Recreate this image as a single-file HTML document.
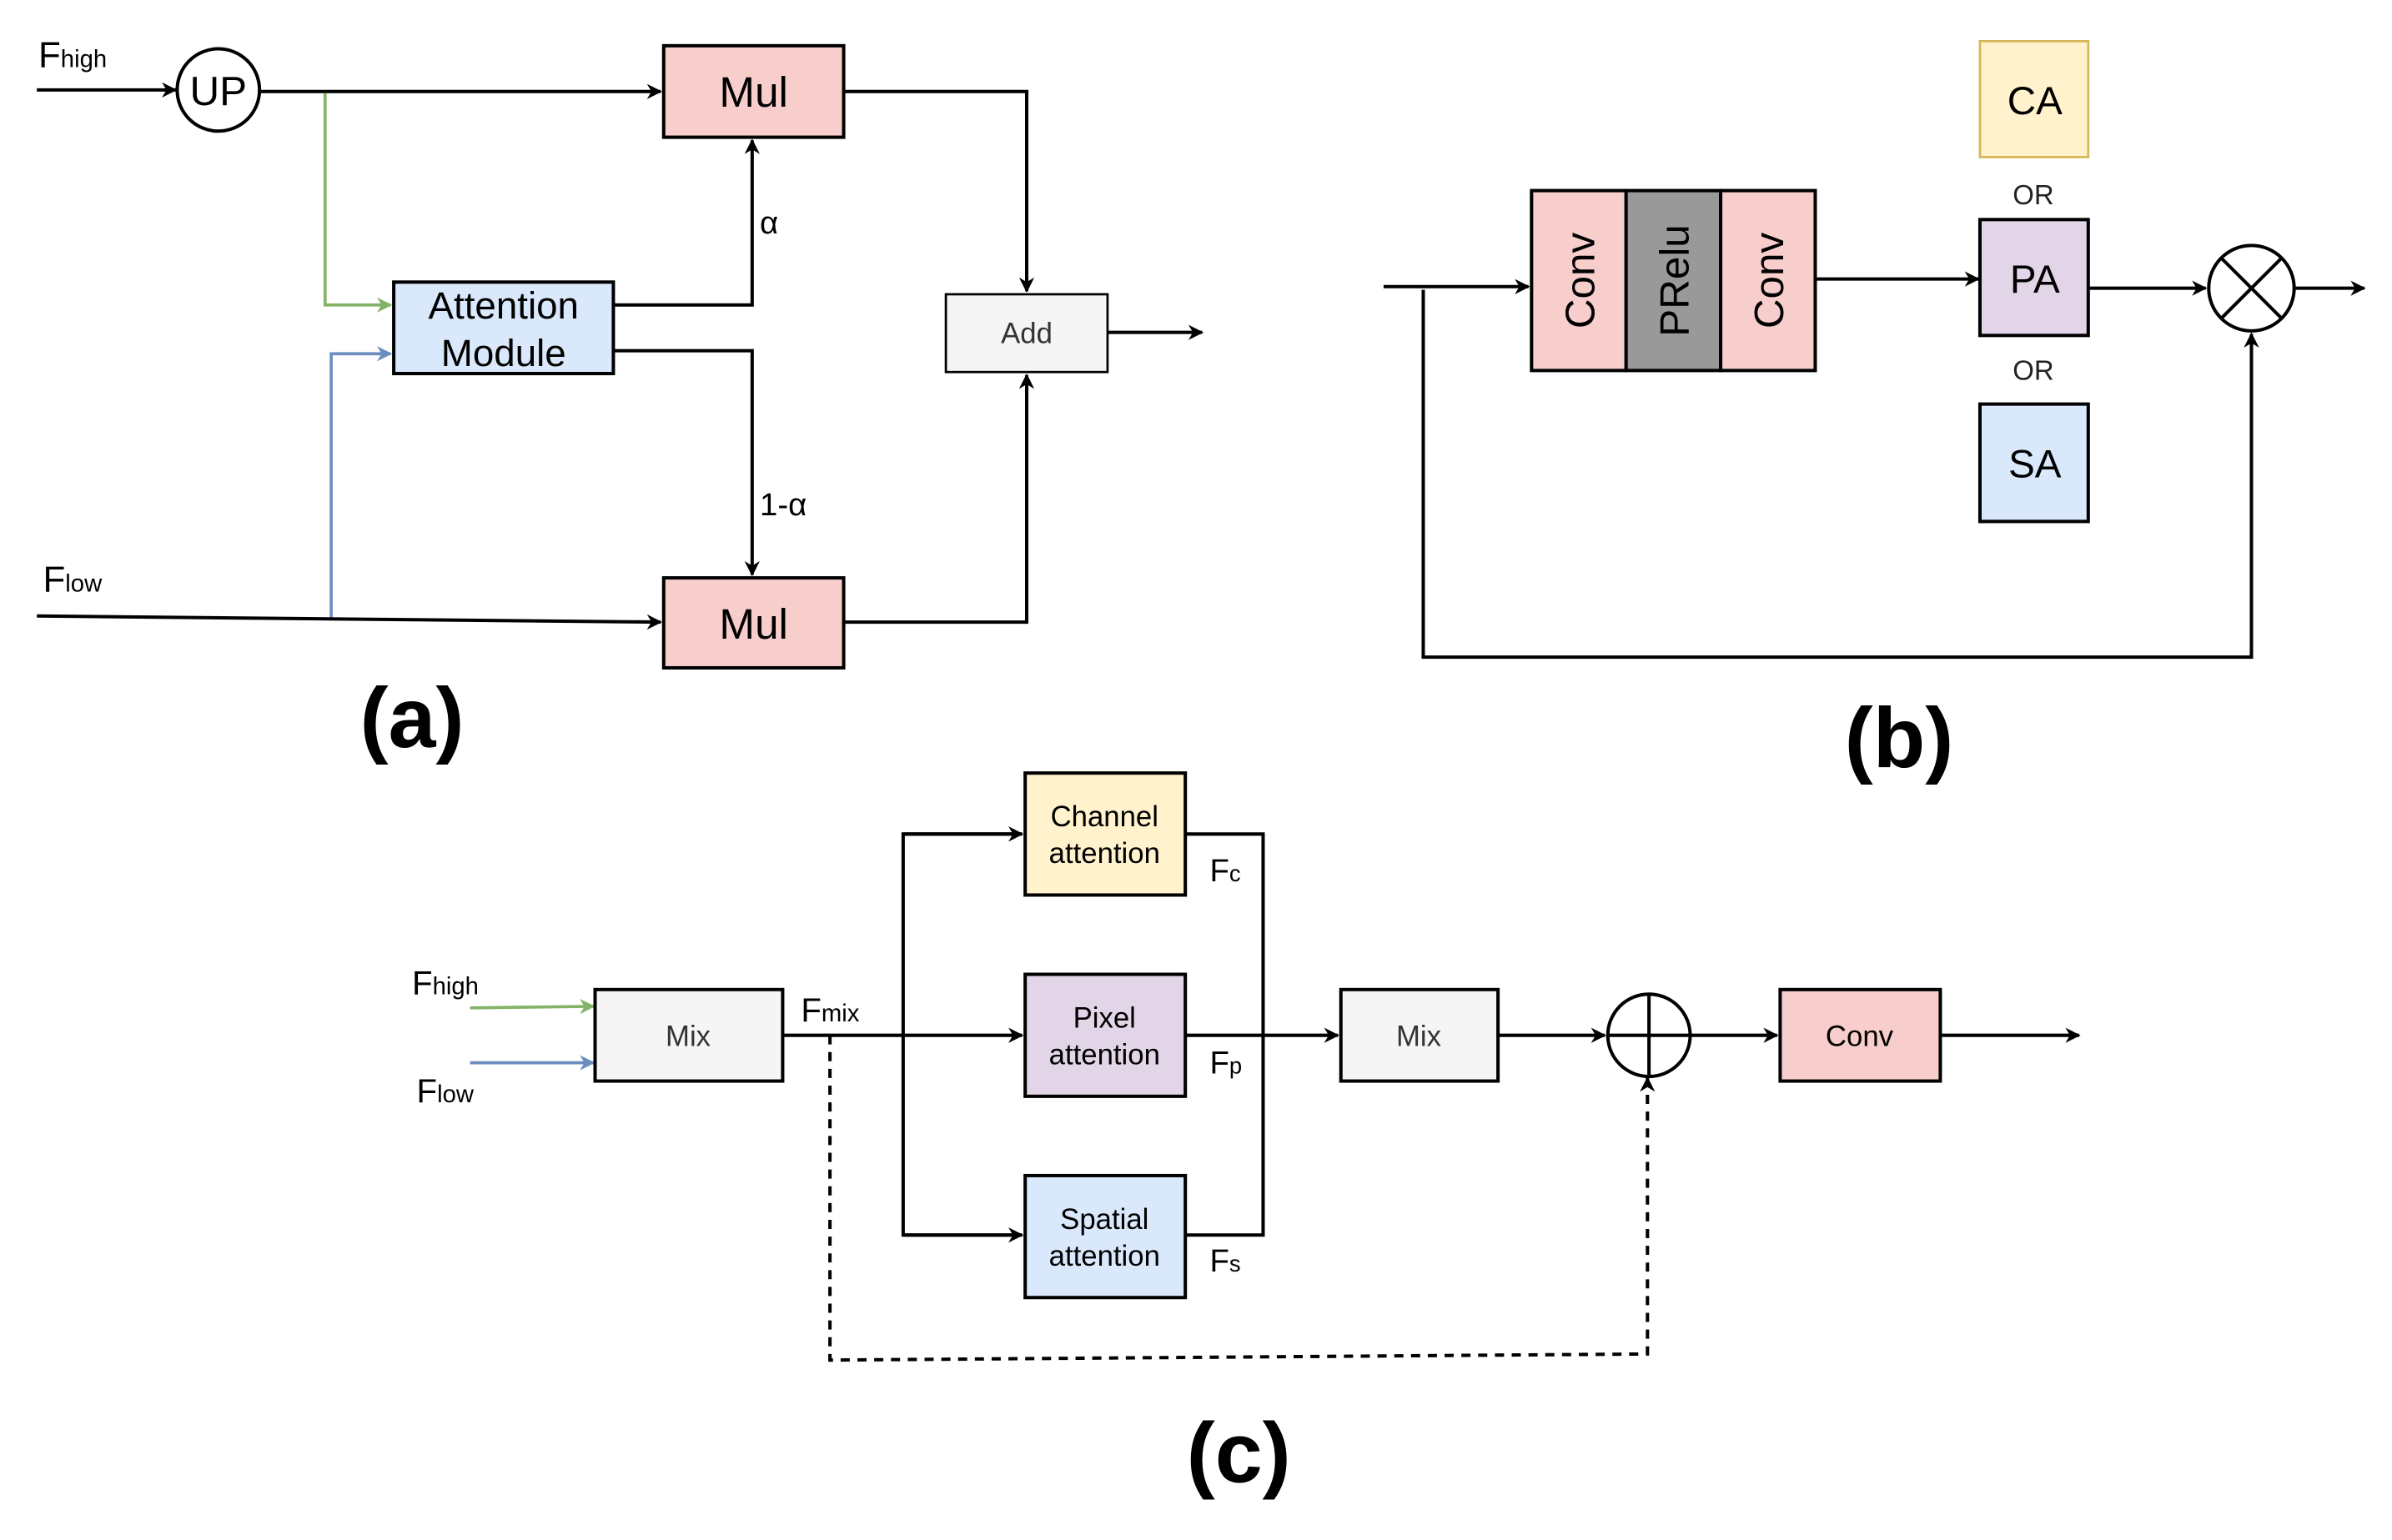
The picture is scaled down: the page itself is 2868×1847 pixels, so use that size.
<!DOCTYPE html>
<html><head><meta charset="utf-8"><style>html,body{margin:0;padding:0;background:#fff}svg{display:block}</style></head>
<body>
<svg width="2868" height="1847" viewBox="0 0 1568 1010" xmlns="http://www.w3.org/2000/svg" font-family="Liberation Sans, DejaVu Sans, sans-serif">
<defs>
<marker id="a" markerWidth="10" markerHeight="10" refX="9" refY="5" orient="auto" markerUnits="userSpaceOnUse"><path d="M0,0 L10,5 L0,10 L3,5 Z" fill="#000"/></marker>
<marker id="g" markerWidth="10" markerHeight="10" refX="9" refY="5" orient="auto" markerUnits="userSpaceOnUse"><path d="M0,0 L10,5 L0,10 L3,5 Z" fill="#82b366"/></marker>
<marker id="b" markerWidth="10" markerHeight="10" refX="9" refY="5" orient="auto" markerUnits="userSpaceOnUse"><path d="M0,0 L10,5 L0,10 L3,5 Z" fill="#6c8ebf"/></marker>
</defs>
<g fill="none" stroke="#000" stroke-width="2.2">
<line x1="24" y1="59" x2="115" y2="59" marker-end="url(#a)"/>
<circle cx="143" cy="59" r="27"/>
<line x1="170" y1="60" x2="433" y2="60" marker-end="url(#a)"/>
<polyline points="213,61 213,200 256,200" stroke="#82b366" stroke-width="2" marker-end="url(#g)"/>
<polyline points="217,405 217,232 256,232" stroke="#6c8ebf" stroke-width="2" marker-end="url(#b)"/>
<polyline points="402,200 493,200 493,92" marker-end="url(#a)"/>
<polyline points="402,230 493,230 493,377" marker-end="url(#a)"/>
<line x1="24" y1="404" x2="433" y2="408" marker-end="url(#a)"/>
<polyline points="553,60 673,60 673,191" marker-end="url(#a)"/>
<polyline points="553,408 673,408 673,246" marker-end="url(#a)"/>
<line x1="726" y1="218" x2="788" y2="218" marker-end="url(#a)"/>
<rect x="435" y="30" width="118" height="60" fill="#f8cecc"/>
<rect x="435" y="379" width="118" height="59" fill="#f8cecc"/>
<rect x="258" y="185" width="144" height="60" fill="#dae8fc"/>
<rect x="620" y="193" width="106" height="51" fill="#f5f5f5" stroke-width="1.5"/>
<line x1="907" y1="188" x2="1002" y2="188" marker-end="url(#a)"/>
<rect x="1004" y="125" width="62" height="118" fill="#f8cecc"/>
<rect x="1066" y="125" width="62" height="118" fill="#999999"/>
<rect x="1128" y="125" width="62" height="118" fill="#f8cecc"/>
<line x1="1190" y1="183" x2="1297" y2="183" marker-end="url(#a)"/>
<rect x="1298" y="27" width="71" height="76" fill="#fff2cc" stroke="#d6b656" stroke-width="1.5"/>
<rect x="1298" y="144" width="71" height="76" fill="#e1d5e7"/>
<rect x="1298" y="265" width="71" height="77" fill="#dae8fc"/>
<line x1="1369" y1="189" x2="1446" y2="189" marker-end="url(#a)"/>
<circle cx="1476" cy="189" r="28"/>
<line x1="1456" y1="169" x2="1496" y2="209"/><line x1="1496" y1="169" x2="1456" y2="209"/>
<line x1="1504" y1="189" x2="1550" y2="189" marker-end="url(#a)"/>
<polyline points="933,190 933,431 1476,431 1476,219" marker-end="url(#a)"/>
<line x1="308" y1="661" x2="389" y2="660" stroke="#82b366" stroke-width="2" marker-end="url(#g)"/>
<line x1="308" y1="697" x2="389" y2="697" stroke="#6c8ebf" stroke-width="2" marker-end="url(#b)"/>
<rect x="390" y="649" width="123" height="60" fill="#f5f5f5"/>
<line x1="513" y1="679" x2="670" y2="679" marker-end="url(#a)"/>
<polyline points="670,547 592,547 592,810 670,810"/>
<line x1="592" y1="547" x2="670" y2="547" marker-end="url(#a)"/>
<line x1="592" y1="810" x2="670" y2="810" marker-end="url(#a)"/>
<rect x="672" y="507" width="105" height="80" fill="#fff2cc"/>
<rect x="672" y="639" width="105" height="80" fill="#e1d5e7"/>
<rect x="672" y="771" width="105" height="80" fill="#dae8fc"/>
<polyline points="777,547 828,547 828,810 777,810"/>
<line x1="777" y1="679" x2="877" y2="679" marker-end="url(#a)"/>
<rect x="879" y="649" width="103" height="60" fill="#f5f5f5"/>
<line x1="982" y1="679" x2="1052" y2="679" marker-end="url(#a)"/>
<circle cx="1081" cy="679" r="27"/>
<line x1="1054" y1="679" x2="1108" y2="679"/><line x1="1081" y1="652" x2="1081" y2="706"/>
<line x1="1108" y1="679" x2="1165" y2="679" marker-end="url(#a)"/>
<rect x="1167" y="649" width="105" height="60" fill="#f8cecc"/>
<line x1="1272" y1="679" x2="1363" y2="679" marker-end="url(#a)"/>
<polyline points="544,679 544,892 1080,888 1080,707" stroke-dasharray="6,5" marker-end="url(#a)"/>
</g>
<g fill="#000">
<text x="25" y="44" font-size="24">F<tspan font-size="16">high</tspan></text>
<text x="143" y="69" font-size="27" text-anchor="middle">UP</text>
<text x="494" y="70" font-size="28" text-anchor="middle">Mul</text>
<text x="494" y="419" font-size="28" text-anchor="middle">Mul</text>
<text x="330" y="209" font-size="25" text-anchor="middle">Attention</text>
<text x="330" y="240" font-size="25" text-anchor="middle">Module</text>
<text x="498" y="153" font-size="21">α</text>
<text x="498" y="338" font-size="21">1-α</text>
<text x="28" y="388" font-size="24">F<tspan font-size="16">low</tspan></text>
<text x="673" y="225" font-size="19" text-anchor="middle" fill="#333">Add</text>
<text x="270" y="490" font-size="56" font-weight="bold" text-anchor="middle">(a)</text>
<text transform="translate(1045,184) rotate(-90)" font-size="27" text-anchor="middle">Conv</text>
<text transform="translate(1107,184) rotate(-90)" font-size="27" text-anchor="middle">PRelu</text>
<text transform="translate(1169,184) rotate(-90)" font-size="27" text-anchor="middle">Conv</text>
<text x="1334" y="75" font-size="26" text-anchor="middle">CA</text>
<text x="1334" y="192" font-size="26" text-anchor="middle">PA</text>
<text x="1334" y="313" font-size="26" text-anchor="middle">SA</text>
<text x="1333" y="134" font-size="18" text-anchor="middle" fill="#222">OR</text>
<text x="1333" y="249" font-size="18" text-anchor="middle" fill="#222">OR</text>
<text x="1245" y="503" font-size="56" font-weight="bold" text-anchor="middle">(b)</text>
<text x="270" y="652" font-size="22">F<tspan font-size="16">high</tspan></text>
<text x="273" y="723" font-size="22">F<tspan font-size="16">low</tspan></text>
<text x="451" y="686" font-size="19" text-anchor="middle" fill="#333">Mix</text>
<text x="525" y="670" font-size="22">F<tspan font-size="16">mix</tspan></text>
<text x="724" y="542" font-size="19" text-anchor="middle">Channel</text>
<text x="724" y="566" font-size="19" text-anchor="middle">attention</text>
<text x="724" y="674" font-size="19" text-anchor="middle">Pixel</text>
<text x="724" y="698" font-size="19" text-anchor="middle">attention</text>
<text x="724" y="806" font-size="19" text-anchor="middle">Spatial</text>
<text x="724" y="830" font-size="19" text-anchor="middle">attention</text>
<text x="793" y="578" font-size="21">F<tspan font-size="15">c</tspan></text>
<text x="793" y="704" font-size="21">F<tspan font-size="15">p</tspan></text>
<text x="793" y="834" font-size="21">F<tspan font-size="15">s</tspan></text>
<text x="930" y="686" font-size="19" text-anchor="middle" fill="#333">Mix</text>
<text x="1219" y="686" font-size="19" text-anchor="middle">Conv</text>
<text x="812" y="972" font-size="56" font-weight="bold" text-anchor="middle">(c)</text>
</g>
</svg>
</body></html>
